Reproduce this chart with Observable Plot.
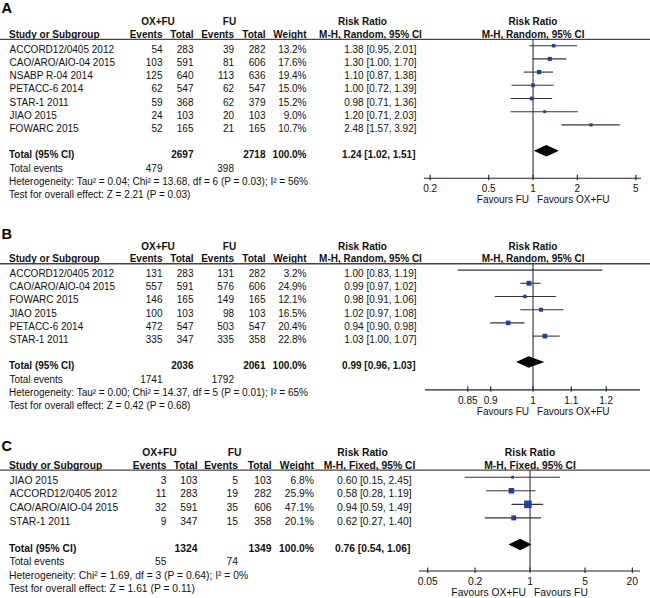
<!DOCTYPE html>
<html><head><meta charset="utf-8">
<script src="https://cdn.jsdelivr.net/npm/d3@7"></script>
<script src="https://cdn.jsdelivr.net/npm/@observablehq/plot@0.6"></script>
<style>
html,body{margin:0;padding:0;background:#fff;}
#chart{position:relative;width:650px;height:598px;overflow:hidden;background:#fff;}
#chart svg{position:absolute;left:0;display:block;}
</style></head><body><div id="chart"></div>
<script>
// ---------- Panel A data ----------
const studiesA = ["ACCORD12/0405 2012","CAO/ARO/AIO-04 2015","NSABP R-04 2014","PETACC-6 2014","STAR-1 2011","JIAO 2015","FOWARC 2015"];
const oxEventsA = [54,103,125,62,59,24,52];
const oxTotalA  = [283,591,640,547,368,103,165];
const fuEventsA = [39,81,113,62,62,20,21];
const fuTotalA  = [282,606,636,547,379,103,165];
const weightA   = [13.2,17.6,19.4,15.0,15.2,9.0,10.7];
const rrA = [1.38,1.30,1.10,1.00,0.98,1.20,2.48];
const loA = [0.95,1.00,0.87,0.72,0.71,0.71,1.57];
const hiA = [2.01,1.70,1.38,1.39,1.36,2.03,3.92];
const totalsA = [2697,2718];
const totalEventsA = [479,398];
const pooledA = [1.24,1.02,1.51];
const hetA = "Heterogeneity: Tau² = 0.04; Chi² = 13.68, df = 6 (P = 0.03); I² = 56%";
const testA = "Test for overall effect: Z = 2.21 (P = 0.03)";
const ticksA = [0.2,0.5,1,2,5];
const tickLabelsA = ["0.2","0.5","1","2","5"];
const favoursA = ["Favours FU","Favours OX+FU"];
const methodA = "M-H, Random, 95% CI";

// ---------- Panel B data ----------
const studiesB = ["ACCORD12/0405 2012","CAO/ARO/AIO-04 2015","FOWARC 2015","JIAO 2015","PETACC-6 2014","STAR-1 2011"];
const oxEventsB = [131,557,146,100,472,335];
const oxTotalB  = [283,591,165,103,547,347];
const fuEventsB = [131,576,149,98,503,335];
const fuTotalB  = [282,606,165,103,547,358];
const weightB   = [3.2,24.9,12.1,16.5,20.4,22.8];
const rrB = [1.00,0.99,0.98,1.02,0.94,1.03];
const loB = [0.83,0.97,0.91,0.97,0.90,1.00];
const hiB = [1.19,1.02,1.06,1.08,0.98,1.07];
const totalsB = [2036,2061];
const totalEventsB = [1741,1792];
const pooledB = [0.99,0.96,1.03];
const hetB = "Heterogeneity: Tau² = 0.00; Chi² = 14.37, df = 5 (P = 0.01); I² = 65%";
const testB = "Test for overall effect: Z = 0.42 (P = 0.68)";
const ticksB = [0.85,0.9,1,1.1,1.2];
const tickLabelsB = ["0.85","0.9","1","1.1","1.2"];
const favoursB = ["Favours FU","Favours OX+FU"];
const methodB = "M-H, Random, 95% CI";

// ---------- Panel C data ----------
const studiesC = ["JIAO 2015","ACCORD12/0405 2012","CAO/ARO/AIO-04 2015","STAR-1 2011"];
const oxEventsC = [3,11,32,9];
const oxTotalC  = [103,283,591,347];
const fuEventsC = [5,19,35,15];
const fuTotalC  = [103,282,606,358];
const weightC   = [6.8,25.9,47.1,20.1];
const rrC = [0.60,0.58,0.94,0.62];
const loC = [0.15,0.28,0.59,0.27];
const hiC = [2.45,1.19,1.49,1.40];
const totalsC = [1324,1349];
const totalEventsC = [55,74];
const pooledC = [0.76,0.54,1.06];
const hetC = "Heterogeneity: Chi² = 1.69, df = 3 (P = 0.64); I² = 0%";
const testC = "Test for overall effect: Z = 1.61 (P = 0.11)";
const ticksC = [0.05,0.2,1,5,20];
const tickLabelsC = ["0.05","0.2","1","5","20"];
const favoursC = ["Favours OX+FU","Favours FU"];
const methodC = "M-H, Fixed, 95% CI";

// ---------- layout (styles / positions) ----------
const colsAB = {study:9, oxHead:157.5, fuHead:229, e1:162, n1:193, e2:233.5, n2:265, w:306, ci:416, rrHead:362, mhHead:370};
const colsC  = {study:9, oxHead:159, fuHead:234, e1:166, n1:197, e2:237.5, n2:271, w:313.5, ci:411, rrHead:362, mhHead:369};
const BLUE = "#1f3fa6";
const FONT = "'Liberation Sans', Arial, Helvetica, sans-serif";

const panels = [
  {letter:"A", top:0, height:215, row0:49, step:13.2, axisRow:9.75, letterRow:-3.14, ML:424, xr:[424,641], xd:[0.183,5.46], cols:colsAB, fs:10, R:5.5, fdy:-3.8,
   studies:studiesA, e1:oxEventsA, n1:oxTotalA, e2:fuEventsA, n2:fuTotalA, w:weightA, rr:rrA, lo:loA, hi:hiA,
   totals:totalsA, tev:totalEventsA, pooled:pooledA, het:hetA, test:testA, ticks:ticksA, tickLabels:tickLabelsA, fav:favoursA, method:methodA},
  {letter:"B", top:215, height:215, row0:273.3, step:13.2, axisRow:8.79, letterRow:-2.99, ML:425, xr:[425,640], xd:[0.765,1.307], cols:colsAB, fs:10, R:5.6, fdy:-3.7,
   studies:studiesB, e1:oxEventsB, n1:oxTotalB, e2:fuEventsB, n2:fuTotalB, w:weightB, rr:rrB, lo:loB, hi:hiB,
   totals:totalsB, tev:totalEventsB, pooled:pooledB, het:hetB, test:testB, ticks:ticksB, tickLabels:tickLabelsB, fav:favoursB, method:methodB},
  {letter:"C", top:430, height:168, row0:480, step:13.57, axisRow:6.67, letterRow:-2.51, ML:419, xr:[419,640], xd:[0.0393,25.4], cols:colsC, fs:10.3, R:6.2, fdy:-3.3,
   studies:studiesC, e1:oxEventsC, n1:oxTotalC, e2:fuEventsC, n2:fuTotalC, w:weightC, rr:rrC, lo:loC, hi:hiC,
   totals:totalsC, tev:totalEventsC, pooled:pooledC, het:hetC, test:testC, ticks:ticksC, tickLabels:tickLabelsC, fav:favoursC, method:methodC}
];

const f2 = d3.format(".2f");
const ciText = (r,l,h) => `${f2(r)} [${f2(l)}, ${f2(h)}]`;

function drawPanel(p){
  const W = 650, MR = W - p.xr[1];
  const y0 = p.row0 - p.top;
  const axisY = y0 + p.axisRow * p.step;
  const n = p.studies.length;
  const rows = p.studies.map((s,i)=>({row:i, study:s, e1:p.e1[i], n1:p.n1[i], e2:p.e2[i], n2:p.n2[i], w:p.w[i], rr:p.rr[i], lo:p.lo[i], hi:p.hi[i]}));
  const tickData = p.ticks.map((t,i)=>({x:t, label:p.tickLabels[i]}));
  const tRow = n + 1, evRow = n + 2, hetRow = n + 3, testRow = n + 4;
  const h1 = -2.08, h2 = -1.1, uline = -0.76;
  const c = p.cols;
  const lab = (txt, row, xpix, anchor, bold, extra={}) =>
    Plot.text([txt], {y: () => row, text: d => d, frameAnchor: "left", dx: xpix - p.ML, textAnchor: anchor,
      fontWeight: bold ? "bold" : "normal", fontSize: p.fs, fill: "#111", ...extra});
  const col = (accessor, xpix, anchor) =>
    Plot.text(rows, {y: "row", text: accessor, frameAnchor: "left", dx: xpix - p.ML, textAnchor: anchor, fontSize: p.fs, fill: "#111"});
  const dh = 5.7 / p.step;
  const [pr, pl, ph] = p.pooled;
  const diamond = [{x: pl, y1: tRow, y2: tRow}, {x: pr, y1: tRow - dh, y2: tRow + dh}, {x: ph, y1: tRow, y2: tRow}];

  const svg = Plot.plot({
    width: W, height: p.height,
    marginLeft: p.ML, marginRight: MR, marginTop: 0, marginBottom: p.height - axisY,
    style: {fontFamily: FONT, fontSize: p.fs + "px", background: "transparent", overflow: "visible", color: "#111"},
    x: {type: "log", domain: p.xd, range: p.xr, axis: null},
    y: {type: "linear", domain: [0, 1], range: [y0, y0 + p.step], axis: null},
    r: {type: "sqrt", domain: [0, 100], range: [0, p.R]},
    marks: [
      // panel letter
      Plot.text([p.letter], {y: () => p.letterRow, text: d => d, frameAnchor: "left", dx: 1 - p.ML, textAnchor: "start", fontWeight: "bold", fontSize: 14.5, fill: "#000"}),
      // header row 1
      lab("OX+FU", h1, c.oxHead, "middle", true),
      lab("FU", h1, c.fuHead, "middle", true),
      lab("Risk Ratio", h1, c.rrHead, "middle", true),
      Plot.text(["Risk Ratio"], {x: () => 1, y: () => h1, text: d => d, fontWeight: "bold", fontSize: p.fs, fill: "#111"}),
      // header row 2
      lab("Study or Subgroup", h2, c.study - 0.5, "start", true),
      lab("Events", h2, c.e1, "end", true),
      lab("Total", h2, c.n1, "end", true),
      lab("Events", h2, c.e2, "end", true),
      lab("Total", h2, c.n2, "end", true),
      lab("Weight", h2, c.w, "end", true),
      lab(p.method, h2, c.mhHead, "middle", true),
      Plot.text([p.method], {x: () => 1, y: () => h2, text: d => d, fontWeight: "bold", fontSize: p.fs, fill: "#111"}),
      // header underline across the whole width
      Plot.ruleY([uline], {insetLeft: -p.ML, insetRight: -MR, stroke: "#444", strokeWidth: 1.3}),
      // study rows
      col("study", c.study, "start"),
      col("e1", c.e1, "end"),
      col("n1", c.n1, "end"),
      col("e2", c.e2, "end"),
      col("n2", c.n2, "end"),
      col(d => d.w.toFixed(1) + "%", c.w, "end"),
      col(d => ciText(d.rr, d.lo, d.hi), c.ci, "end"),
      // totals
      lab("Total (95% CI)", tRow, c.study - 0.5, "start", true),
      lab(String(p.totals[0]), tRow, c.n1, "end", true),
      lab(String(p.totals[1]), tRow, c.n2, "end", true),
      lab("100.0%", tRow, c.w, "end", true),
      lab(ciText(pr, pl, ph), tRow, c.ci - 1, "end", true),
      lab("Total events", evRow, c.study, "start", false),
      lab(String(p.tev[0]), evRow, c.e1, "end", false),
      lab(String(p.tev[1]), evRow, c.e2, "end", false),
      lab(p.het, hetRow, c.study - 0.5, "start", false),
      lab(p.test, testRow, c.study - 0.5, "start", false),
      // forest plot
      Plot.ruleX([1], {y1: uline, y2: p.axisRow, stroke: "#444", strokeWidth: 1.2}),
      Plot.ruleY(rows, {y: "row", x1: "lo", x2: "hi", stroke: "#333", strokeWidth: 1.1, dy: p.fdy}),
      Plot.dot(rows, {x: "rr", y: "row", r: "w", symbol: "square", fill: BLUE, stroke: "none", dy: p.fdy}),
      Plot.areaY(diamond, {x: "x", y1: "y1", y2: "y2", fill: "#000", dy: p.fdy}),
      // axis: line, crossing ticks, labels
      Plot.ruleY([p.axisRow], {stroke: "#222", strokeWidth: 1.1}),
      Plot.ruleX(tickData, {x: "x", y1: p.axisRow - 3 / p.step, y2: p.axisRow + 2.5 / p.step, stroke: "#222", strokeWidth: 1.1}),
      Plot.text(tickData, {x: "x", y: () => p.axisRow, dy: 10.8, text: "label", fontSize: p.fs, fill: "#111"}),
      Plot.text([p.fav[0]], {x: () => 1, y: () => p.axisRow, dy: 21.5, dx: -4, text: d => d, textAnchor: "end", fontSize: p.fs, fill: "#111"}),
      Plot.text([p.fav[1]], {x: () => 1, y: () => p.axisRow, dy: 21.5, dx: 4, text: d => d, textAnchor: "start", fontSize: p.fs, fill: "#111"})
    ]
  });
  svg.style.top = p.top + "px";
  return svg;
}

const chart = document.getElementById("chart");
for (const p of panels) chart.appendChild(drawPanel(p));
</script></body></html>
